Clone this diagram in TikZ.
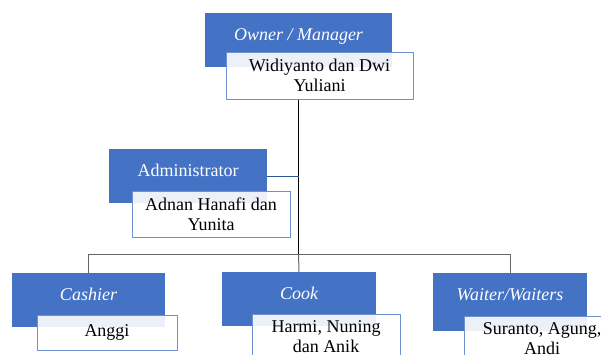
\documentclass[tikz,border=0pt]{standalone}
\usepackage{fontspec}
\setmainfont{Liberation Serif}
\begin{document}
\begin{tikzpicture}[x=1pt,y=-1pt,
    rolebox/.style={shape=rectangle,fill=orgblue,text=white,font=\fontsize{18}{20}\selectfont,inner sep=0pt,minimum height=54pt,text height=27pt,text depth=27pt},
    namebox/.style={shape=rectangle,draw=orgline,line width=0.8pt,fill=white,fill opacity=0.9,text opacity=1,font=\fontsize{18}{20}\selectfont,align=center,inner sep=0pt},
    mainline/.style={line width=1.3pt,color=black},
    subline/.style={line width=1pt,color=gray!80!black}]
    \definecolor{orgblue}{RGB}{68,114,196}
    \definecolor{orgline}{RGB}{110,145,210}
    \definecolor{orgdark}{RGB}{47,85,151}
    \useasboundingbox (0,0) rectangle (601,354);
    % top
    \node[rolebox,minimum width=187pt,font=\fontsize{18}{20}\selectfont\itshape] (ownerB) at (298.5,40) {Owner / Manager};
    \node[rolebox,minimum width=158pt] (adminB) at (188,176) {Administrator};
    % connectors
    \draw[mainline] (ownerB.south |- 0,99) to coordinate[pos=1] (bar) (ownerB.south |- 0,254);
    \draw[orgdark,line width=1pt] (adminB.east) to (adminB.east -| ownerB.south);
    \node[rolebox,minimum width=153pt,font=\fontsize{18}{20}\selectfont\itshape] (cashierB) at (88.5,300) {Cashier};
    \node[rolebox,minimum width=154pt,font=\fontsize{18}{20}\selectfont\itshape] (cookB) at (299,299) {Cook};
    \node[rolebox,minimum width=154pt,minimum height=58pt,text depth=31pt,font=\fontsize{18}{20}\selectfont\itshape] (waiterB) at (510,302) {Waiter/Waiters};
    \draw[subline] (cashierB.north) to (cashierB.north |- bar) to (waiterB.north |- bar) to (waiterB.north);
    \draw[subline] (bar) to (cookB.north);
    % names
    \node[namebox,minimum width=187pt,minimum height=47pt] (ownerW) at (319.5,75.5) {Widiyanto dan Dwi\\Yuliani};
    \node[namebox,minimum width=158pt,minimum height=46pt] (adminW) at (211,214) {Adnan Hanafi dan\\Yunita};
    \node[namebox,minimum width=140pt,minimum height=35pt] (cashierW) at (107,332.5) {Anggi};
    \node[namebox,minimum width=148pt,minimum height=46pt] (cookW) at (326,337) {Harmi, Nuning\\dan Anik};
    \node[namebox,minimum width=156pt,minimum height=46pt] (waiterW) at (542,339) {Suranto, Agung,\\Andi};
\end{tikzpicture}
\end{document}
